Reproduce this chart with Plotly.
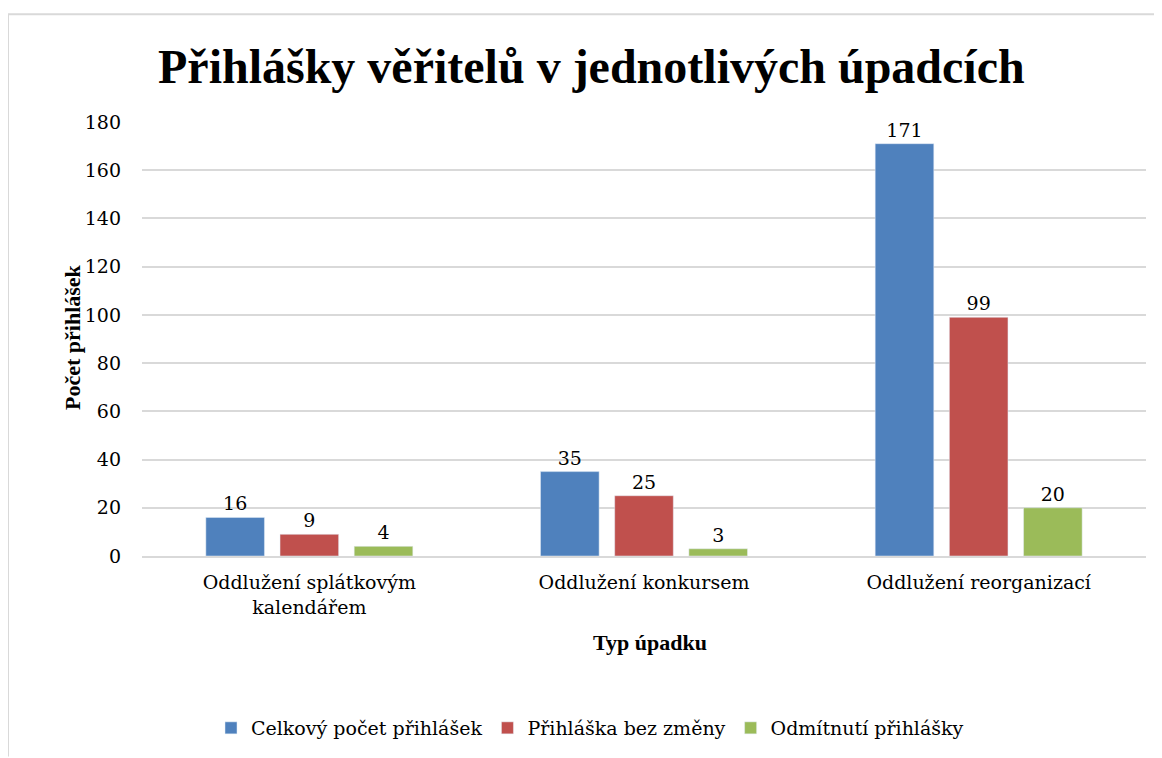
import plotly.graph_objects as go

categories = ["Oddlužení splátkovým<br>kalendářem", "Oddlužení konkursem", "Oddlužení reorganizací"]
series_names = ["Celkový počet přihlášek", "Přihláška bez změny", "Odmítnutí přihlášky"]
celkovy = [16, 35, 171]
bez_zmeny = [9, 25, 99]
odmitnuti = [4, 3, 20]
colors = ["#4F81BD", "#C0504D", "#9BBB59"]
y_ticks = [0, 20, 40, 60, 80, 100, 120, 140, 160, 180]

SERIF = "Liberation Serif"
SERIF2 = "DejaVu Serif"
OFF = 8  # page body margin offset

W, H = 1162 - OFF, 758 - OFF
L, T = 142 - OFF, 122 - OFF
R = W - (1146 - OFF)
B = H - (557 - OFF)
pw, ph = W - L - R, H - T - B

def px(x):
    return (x - OFF - L) / pw

def py(y):
    return (H - B - (y - OFF)) / ph

fig = go.Figure()
for name, vals, col in zip(series_names, [celkovy, bez_zmeny, odmitnuti], colors):
    fig.add_trace(go.Bar(
        x=categories, y=vals, name=name, marker_color=col,
        text=[str(v) for v in vals], textposition="outside",
        textfont=dict(family=SERIF2, size=19, color="black"),
        cliponaxis=False,
    ))

fig.update_layout(
    width=W, height=H,
    margin=dict(l=L, r=R, t=T, b=B),
    paper_bgcolor="white", plot_bgcolor="white",
    barmode="group", bargap=0.335, bargroupgap=0.21,
    font=dict(family=SERIF2, size=19, color="black"),
    showlegend=True,
    legend=dict(orientation="h", x=px(590), xanchor="center", y=py(728), yanchor="middle",
                font=dict(family=SERIF2, size=19, color="black"),
                itemwidth=30, traceorder="normal"),
    xaxis=dict(showgrid=False, showline=True, linecolor="#d9d9d9", linewidth=2,
               tickfont=dict(family=SERIF2, size=19, color="black"),
               ticks="", ticklabelstandoff=8),
    yaxis=dict(range=[0, 180], tickvals=y_ticks, showgrid=True, gridcolor="#d9d9d9",
               gridwidth=1.5, zeroline=False, ticks="", ticklabelstandoff=20,
               tickfont=dict(family=SERIF2, size=19, color="black")),
    annotations=[
        dict(text="<b>Přihlášky věřitelů v jednotlivých úpadcích</b>", x=px(591), y=py(66),
             xref="paper", yref="paper", showarrow=False, xanchor="center", yanchor="middle",
             font=dict(family=SERIF, size=48, color="black")),
        dict(text="<b>Typ úpadku</b>", x=px(650), y=py(658), xref="paper", yref="paper",
             showarrow=False, font=dict(family=SERIF, size=22, color="black")),
        dict(text="<b>Počet přihlášek</b>", x=px(58), y=py(338), xref="paper", yref="paper",
             showarrow=False, textangle=-90, font=dict(family=SERIF, size=22, color="black")),
    ],
    shapes=[
        dict(type="line", xref="paper", yref="paper", x0=px(8), x1=px(1162), y0=py(14), y1=py(14),
             line=dict(color="#d9d9d9", width=2)),
        dict(type="line", xref="paper", yref="paper", x0=px(8), x1=px(8), y0=py(14), y1=py(758),
             line=dict(color="#d9d9d9", width=2)),
    ],
)

fig.write_html("out.html")
